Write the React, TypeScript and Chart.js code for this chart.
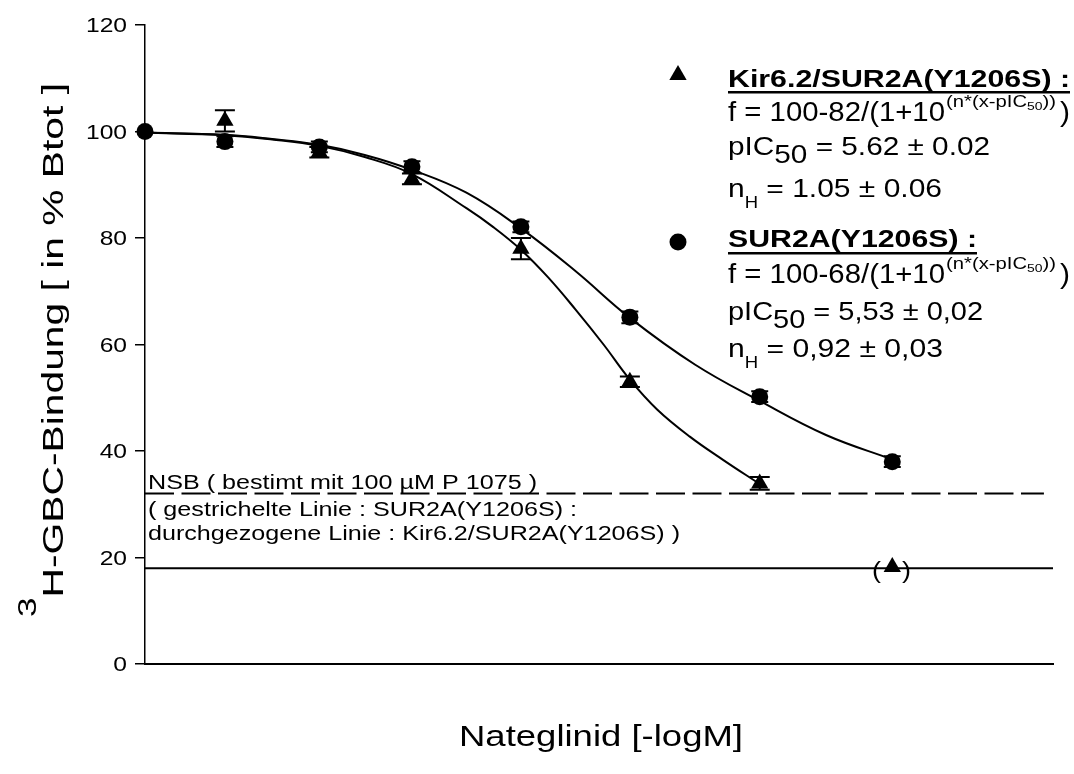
import React, { useEffect, useRef } from "react";
import { Chart, registerables } from "chart.js";

Chart.register(...registerables);

// ---------- data ----------
// dose positions on the unlabeled Nateglinid axis (axis runs 0..10)
const doseX = [0, 0.88, 1.92, 2.94, 4.14, 5.34, 6.77, 8.23];
// SUR2A(Y1206S) – circles
const surMean = [100, 98.1, 97.1, 93.4, 82.1, 65.1, 50.2, 38.0];
const surErr = [0, 1, 1, 1, 1, 1.1, 1, 1];
// Kir6.2/SUR2A(Y1206S) – triangles (control point shared with circles)
const kirMean: (number | null)[] = [null, 102.0, 96.1, 91.1, 78.0, 53.0, 33.9, 18.2];
const kirErr = [0, 2, 1, 1, 2, 1, 1.2, 0];
// fitted curves as seen in the picture
const kirFitX = [0, 0.88, 1.4, 1.92, 2.42, 2.94, 3.54, 3.84, 4.14, 4.44, 4.74, 5.05, 5.34, 5.64, 6.0, 6.37, 6.77];
const kirFit = [99.8, 99.3, 98.5, 97.3, 95.2, 92.0, 85.6, 82.0, 77.8, 72.6, 66.6, 60.0, 53.4, 47.8, 42.7, 38.3, 33.8];
const surFitX = [0, 0.88, 1.4, 1.92, 2.42, 2.94, 3.54, 4.14, 4.74, 5.34, 6.06, 6.77, 7.5, 8.23];
const surFit = [99.8, 99.4, 98.6, 97.5, 95.6, 92.8, 88.5, 81.8, 73.8, 65.0, 56.2, 49.4, 43.0, 38.4];
// non-specific binding levels
const nsbSur = 32; // dashed
const nsbKir = 18; // solid
const nsbDashEnd = 9.9;
const nsbSolidEnd = 10;
// y-axis ticks
const yTicks = [0, 20, 40, 60, 80, 100, 120];

const FONT = '"Liberation Sans", Arial, Helvetica, sans-serif';

type Part = { t: string; size: number; bold?: boolean; dy?: number };

function fontOf(p: Part) {
  return `${p.bold ? "bold " : ""}${p.size}px ${FONT}`;
}

function measureParts(ctx: CanvasRenderingContext2D, parts: Part[]) {
  let w = 0;
  for (const p of parts) {
    ctx.font = fontOf(p);
    w += ctx.measureText(p.t).width;
  }
  return w;
}

// draws a run of text parts starting at x, baseline y; stretched to targetWidth
function drawParts(ctx: CanvasRenderingContext2D, x: number, y: number, parts: Part[], targetWidth?: number) {
  const natural = measureParts(ctx, parts);
  const sx = targetWidth ? targetWidth / natural : 1;
  ctx.save();
  ctx.translate(x, y);
  ctx.scale(sx, 1);
  ctx.textBaseline = "alphabetic";
  ctx.textAlign = "left";
  ctx.fillStyle = "#000";
  let cx = 0;
  for (const p of parts) {
    ctx.font = fontOf(p);
    ctx.fillText(p.t, cx, p.dy || 0);
    cx += ctx.measureText(p.t).width;
  }
  ctx.restore();
  return natural * sx;
}

function drawFormula(ctx: CanvasRenderingContext2D, y: number, head: string) {
  drawParts(ctx, 728, y, [{ t: head, size: 27 }], 217);
  drawParts(
    ctx,
    946,
    y - 14,
    [
      { t: "(n*(x-pIC", size: 16 },
      { t: "50", size: 11, dy: 3 },
      { t: "))", size: 16 },
    ],
    110
  );
  drawParts(ctx, 1060, y, [{ t: ")", size: 27 }], 10);
}

const errorBarPlugin = {
  id: "errorBars",
  afterDatasetsDraw(chart: any) {
    const ctx: CanvasRenderingContext2D = chart.ctx;
    const xs = chart.scales.x;
    const ys = chart.scales.y;
    ctx.save();
    ctx.strokeStyle = "#000";
    ctx.lineWidth = 2;
    const draw = (means: (number | null)[], errs: number[], half: number) => {
      means.forEach((m, i) => {
        if (m === null || !errs[i]) return;
        const px = xs.getPixelForValue(doseX[i]);
        const top = ys.getPixelForValue(m + errs[i]);
        const bot = ys.getPixelForValue(m - errs[i]);
        ctx.beginPath();
        ctx.moveTo(px, top);
        ctx.lineTo(px, bot);
        ctx.moveTo(px - half, top);
        ctx.lineTo(px + half, top);
        ctx.moveTo(px - half, bot);
        ctx.lineTo(px + half, bot);
        ctx.stroke();
      });
    };
    draw(kirMean, kirErr, 10);
    draw(surMean, surErr, 8.5);
    ctx.restore();
  },
};

const textPlugin = {
  id: "texts",
  afterDraw(chart: any) {
    const ctx: CanvasRenderingContext2D = chart.ctx;
    const ys = chart.scales.y;
    ctx.save();
    ctx.fillStyle = "#000";
    ctx.strokeStyle = "#000";

    // y tick labels (stretched, right aligned)
    for (const v of yTicks) {
      const py = ys.getPixelForValue(v);
      const parts: Part[] = [{ t: String(v), size: 20 }];
      const nat = measureParts(ctx, parts);
      const w = nat * 1.23;
      drawParts(ctx, 127 - w, py + 7, parts, w);
    }

    // y axis title (rotated)
    ctx.save();
    ctx.translate(63, 617);
    ctx.rotate(-Math.PI / 2);
    drawParts(
      ctx,
      0,
      0,
      [
        { t: "3", size: 25, dy: -27 },
        { t: "H-GBC-Bindung [ in % Btot ]", size: 29 },
      ],
      534
    );
    ctx.restore();

    // x axis title
    drawParts(ctx, 459, 746, [{ t: "Nateglinid [-logM]", size: 30 }], 284);

    // legend 1 – triangle
    ctx.beginPath();
    {
      const cx = 678, cy = 75, r = 10;
      ctx.moveTo(cx, cy - r);
      ctx.lineTo(cx + r * Math.sin((2 * Math.PI) / 3), cy + r / 2);
      ctx.lineTo(cx - r * Math.sin((2 * Math.PI) / 3), cy + r / 2);
      ctx.closePath();
      ctx.fill();
    }
    const t1w = drawParts(ctx, 728, 87, [{ t: "Kir6.2/SUR2A(Y1206S) :", size: 23, bold: true }], 342);
    ctx.fillRect(728, 91, t1w, 2.5);
    drawFormula(ctx, 121, "f = 100-82/(1+10");
    drawParts(
      ctx,
      728,
      155,
      [
        { t: "pIC", size: 26 },
        { t: "50", size: 26, dy: 8 },
        { t: " = 5.62 ± 0.02", size: 26 },
      ],
      262
    );
    drawParts(
      ctx,
      728,
      197,
      [
        { t: "n", size: 26 },
        { t: "H", size: 16, dy: 11 },
        { t: " = 1.05 ± 0.06", size: 26 },
      ],
      214
    );

    // legend 2 – circle
    ctx.beginPath();
    ctx.arc(678, 242, 8.5, 0, Math.PI * 2);
    ctx.fill();
    const t2w = drawParts(ctx, 728, 247, [{ t: "SUR2A(Y1206S) :", size: 23, bold: true }], 249);
    ctx.fillRect(728, 252, t2w, 2.5);
    drawFormula(ctx, 283, "f = 100-68/(1+10");
    drawParts(
      ctx,
      728,
      320,
      [
        { t: "pIC", size: 26 },
        { t: "50", size: 26, dy: 8 },
        { t: " = 5,53 ± 0,02", size: 26 },
      ],
      255
    );
    drawParts(
      ctx,
      728,
      357,
      [
        { t: "n", size: 26 },
        { t: "H", size: 16, dy: 11 },
        { t: " = 0,92 ± 0,03", size: 26 },
      ],
      215
    );

    // NSB annotation
    drawParts(ctx, 148, 489, [{ t: "NSB ( bestimt mit 100 µM P 1075 )", size: 20 }], 389);
    drawParts(ctx, 148, 516, [{ t: "( gestrichelte Linie : SUR2A(Y1206S) :", size: 20 }], 429);
    drawParts(ctx, 148, 540, [{ t: "durchgezogene Linie : Kir6.2/SUR2A(Y1206S) )", size: 20 }], 532);

    // parentheses around the excluded triangle
    drawParts(ctx, 872, 578, [{ t: "(", size: 24 }], 9);
    drawParts(ctx, 902, 578, [{ t: ")", size: 24 }], 9);

    ctx.restore();
  },
};

export default function App() {
  const ref = useRef<HTMLCanvasElement>(null);

  useEffect(() => {
    const canvas = ref.current;
    if (!canvas) return;

    const kirPts = doseX
      .map((x, i) => ({ x, y: kirMean[i] }))
      .filter((p) => p.y !== null) as { x: number; y: number }[];
    const surPts = doseX.map((x, i) => ({ x, y: surMean[i] }));
    const kirCurve = kirFit.map((y, i) => ({ x: kirFitX[i], y }));
    const surCurve = surFit.map((y, i) => ({ x: surFitX[i], y }));

    const curveStyle = {
      borderColor: "#000",
      borderWidth: 2,
      pointRadius: 0,
      tension: 0.4,
      fill: false,
      clip: false as any,
    };

    const chart = new Chart(canvas, {
      type: "line",
      data: {
        datasets: [
          {
            label: "Kir6.2/SUR2A(Y1206S)",
            data: kirPts,
            showLine: false,
            pointStyle: "triangle",
            pointRadius: 10,
            pointBackgroundColor: "#000",
            pointBorderColor: "#000",
            pointBorderWidth: 0,
            clip: false as any,
          },
          {
            label: "SUR2A(Y1206S)",
            data: surPts,
            showLine: false,
            pointStyle: "circle",
            pointRadius: 8.5,
            pointBackgroundColor: "#000",
            pointBorderColor: "#000",
            pointBorderWidth: 0,
            clip: false as any,
          },
          { label: "fit Kir6.2/SUR2A", data: kirCurve, ...curveStyle },
          { label: "fit SUR2A", data: surCurve, ...curveStyle },
          {
            label: "NSB SUR2A",
            data: [
              { x: 0, y: nsbSur },
              { x: nsbDashEnd, y: nsbSur },
            ],
            borderColor: "#000",
            borderWidth: 2,
            borderDash: [29, 7.5],
            pointRadius: 0,
            fill: false,
            clip: false as any,
          },
          {
            label: "NSB Kir6.2/SUR2A",
            data: [
              { x: 0, y: nsbKir },
              { x: nsbSolidEnd, y: nsbKir },
            ],
            borderColor: "#000",
            borderWidth: 2,
            pointRadius: 0,
            fill: false,
            clip: false as any,
          },
        ],
      },
      options: {
        responsive: false,
        maintainAspectRatio: false,
        animation: false,
        devicePixelRatio: 1,
        layout: { padding: { left: 0, top: 25, right: 21, bottom: 0 } },
        plugins: {
          legend: { display: false },
          tooltip: { enabled: false },
        },
        scales: {
          x: {
            type: "linear",
            min: 0,
            max: 10,
            ticks: { display: false },
            grid: { display: false },
            border: { display: true, color: "#000", width: 2 },
            afterFit: (scale: any) => {
              scale.height = 110;
            },
          },
          y: {
            type: "linear",
            min: 0,
            max: 120,
            ticks: { display: false, stepSize: 20 },
            grid: {
              display: true,
              drawOnChartArea: false,
              drawTicks: true,
              tickLength: 10,
              color: "#000",
              lineWidth: 1.5,
            },
            border: { display: true, color: "#000", width: 1.5 },
            afterFit: (scale: any) => {
              scale.width = 145;
            },
          },
        },
      },
      plugins: [errorBarPlugin, textPlugin],
    });

    return () => chart.destroy();
  }, []);

  return (
    <div
      style={{
        position: "fixed",
        left: 0,
        top: 0,
        width: 1074,
        height: 774,
        background: "#fff",
      }}
    >
      <canvas ref={ref} width={1074} height={774} style={{ display: "block", width: 1074, height: 774 }} />
    </div>
  );
}
